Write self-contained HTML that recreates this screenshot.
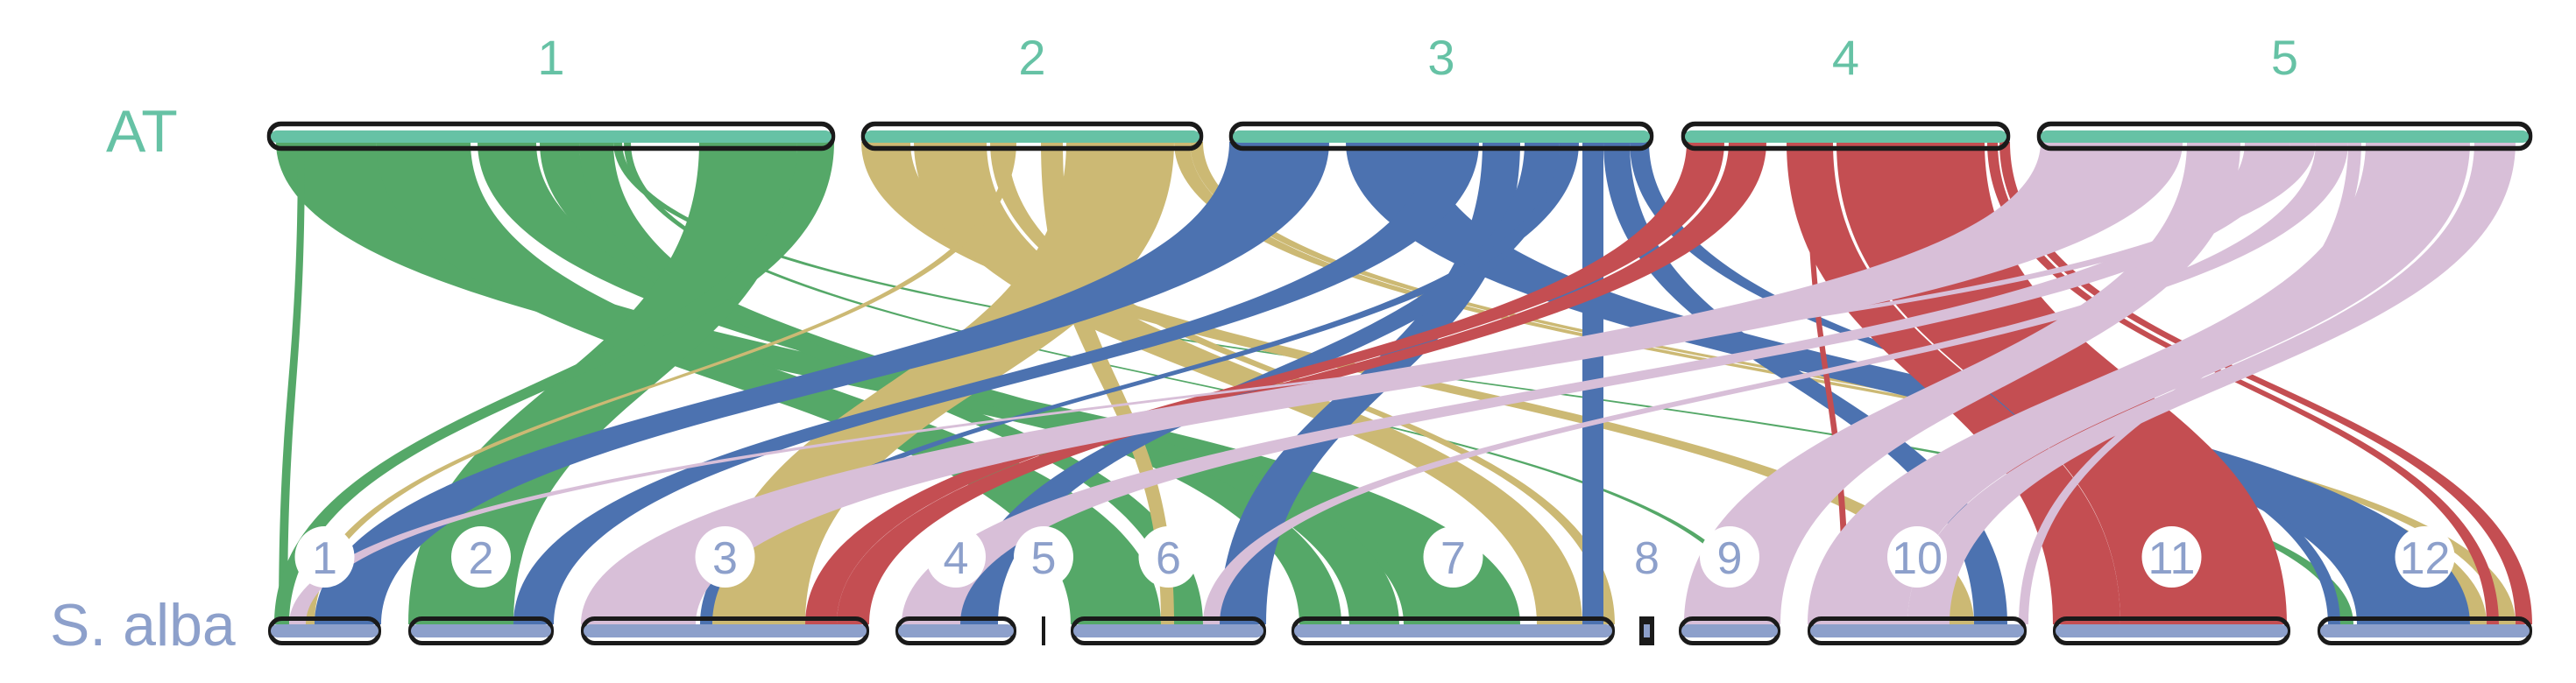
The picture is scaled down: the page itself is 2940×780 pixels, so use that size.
<!DOCTYPE html>
<html><head><meta charset="utf-8"><style>
html,body{margin:0;padding:0;background:#fff;}
svg{display:block;}
text{font-family:"Liberation Sans",sans-serif;}
</style></head><body>
<svg id="chart" width="2940" height="780" viewBox="0 0 2940 780" xmlns="http://www.w3.org/2000/svg">
<g id="ribbons"></g>
<g id="bars"></g>
<g id="labels">
<text x="121" y="173" font-size="68" fill="#66c2a5">AT</text>
<text x="57" y="737" font-size="68" fill="#8da0cb">S. alba</text>
</g>
</svg>
<script>
// top genome (AT) chromosome extents
const topNames = ["1","2","3","4","5"];
const topStart = [305, 983, 1403, 1919, 2325];
const topEnd   = [953, 1373, 1887, 2294, 2890];
// bottom genome (S. alba)
const botNames = ["1","2","3","4","5","6","7","8","9","10","11","12"];
const botStart = [306, 466, 663, 1022, 1189, 1222, 1474, 1871, 1916, 2063, 2343, 2645];
const botEnd   = [435, 632, 992, 1160, 1193, 1445, 1843, 1888, 2032, 2313, 2614, 2890];
// ribbons: top interval -> bottom interval
const ribTopA = [315, 340, 429, 545, 616, 661, 700, 712, 798, 910,
                 983, 1043, 1130, 1150, 1188, 1217, 1340, 1358,
                 1403, 1536, 1631, 1692, 1740, 1780, 1806, 1830, 1860,
                 1925, 1973, 2039, 2096, 2062, 2268, 2282,
                 2329, 2496, 2562, 2614, 2643, 2680, 2700, 2824];
const ribTopB = [429, 348, 537, 612, 661, 700, 710, 720, 910, 952,
                 1039, 1126, 1150, 1160, 1213, 1340, 1358, 1373,
                 1517, 1631, 1688, 1735, 1780, 1802, 1830, 1860, 1882,
                 1968, 2016, 2092, 2265, 2068, 2280, 2294,
                 2491, 2557, 2614, 2643, 2680, 2695, 2819, 2871];
const ribBotA = [1602, 318, 1222, 1540, 1483, 1340, 2671, 2000, 466, 313,
                 2225, 1754, 1830, 349, 1325, 813, 2819, 2852,
                 359, 2690, 586, 1392, 1096, 799, 1806, 2253, 2657,
                 919, 955, 2343, 2420, 2103, 2838, 2871,
                 663, 1922, 1029, 330, 1373, 2304, 2063, 2177];
const ribBotB = [1735, 328, 1325, 1597, 1531, 1373, 2686, 2008, 586, 330,
                 2253, 1806, 1843, 359, 1340, 919, 2838, 2871,
                 435, 2819, 632, 1445, 1139, 813, 1830, 2291, 2671,
                 955, 992, 2420, 2610, 2110, 2852, 2890,
                 794, 2032, 1096, 349, 1392, 2315, 2177, 2225];
const ribColor = ["g","g","g","g","g","g","g","g","g","g",
                  "y","y","y","y","y","y","y","y",
                  "b","b","b","b","b","b","b","b","b",
                  "r","r","r","r","r","r","r",
                  "p","p","p","p","p","p","p","p"];
const palette = {g:"#55a868", y:"#ccb974", b:"#4c72b0", r:"#c44e52", p:"#d8bfd8"};

const NS = "http://www.w3.org/2000/svg";
const yTop = 162, yBot = 713, yMid = (yTop + yBot) / 2;
const rg = document.getElementById("ribbons");
for (let i = 0; i < ribTopA.length; i++) {
  const a = ribTopA[i], b = ribTopB[i], c = ribBotA[i], d = ribBotB[i];
  const p = document.createElementNS(NS, "path");
  p.setAttribute("d", `M${a},${yTop} C${a},${yMid} ${c},${yMid} ${c},${yBot} L${d},${yBot} C${d},${yMid} ${b},${yMid} ${b},${yTop} Z`);
  p.setAttribute("fill", palette[ribColor[i]]);
  
  
  rg.appendChild(p);
}

const bg = document.getElementById("bars");
const lg = document.getElementById("labels");
function mk(tag, attrs, parent) {
  const e = document.createElementNS(NS, tag);
  for (const k in attrs) e.setAttribute(k, attrs[k]);
  parent.appendChild(e);
  return e;
}
for (let i = 0; i < topStart.length; i++) {
  const x0 = topStart[i], x1 = topEnd[i];
  const o = mk("rect", {x: x0 + 2.5, y: 141.5, width: x1 - x0 - 5, height: 28, rx: 13, fill: "none", stroke: "#1a1a1a", "stroke-width": 5.5}, bg);
  
  
  const f = mk("rect", {x: x0 + 4, y: 149, width: x1 - x0 - 8, height: 14, rx: 7, fill: "#66c2a5"}, bg);
  
  
  const t = mk("text", {x: (x0 + x1) / 2, y: 85, "font-size": 56, fill: "#66c2a5", "text-anchor": "middle"}, lg);
  t.textContent = topNames[i];
  
  
}
for (let i = 0; i < botStart.length; i++) {
  const x0 = botStart[i], x1 = botEnd[i], w = x1 - x0;
  if (w < 8) {
    const l = mk("rect", {x: x0, y: 704, width: w, height: 33, fill: "#1a1a1a"}, bg);
    
    
  } else if (w < 25) {
    const l = mk("rect", {x: x0, y: 704, width: w, height: 33, fill: "#1a1a1a"}, bg);
    
    
    const f = mk("rect", {x: x0 + 5, y: 713, width: w - 10, height: 15, fill: "#8da0cb"}, bg);
    
    
  } else {
    const o = mk("rect", {x: x0 + 2.5, y: 706.5, width: w - 5, height: 28, rx: 13, fill: "none", stroke: "#1a1a1a", "stroke-width": 5}, bg);
    
    
    const f = mk("rect", {x: x0 + 3, y: 713, width: w - 6, height: 15, rx: 7.5, fill: "#8da0cb"}, bg);
    
    
  }
  const cx = (x0 + x1) / 2;
  const c = mk("ellipse", {cx: cx, cy: 636, rx: 34, ry: 35, fill: "#ffffff"}, lg);
  
  
  const t = mk("text", {x: cx, y: 655, "font-size": 52, fill: "#8da0cb", "text-anchor": "middle"}, lg);
  t.textContent = botNames[i];
  
  
}
</script>
</body></html>
